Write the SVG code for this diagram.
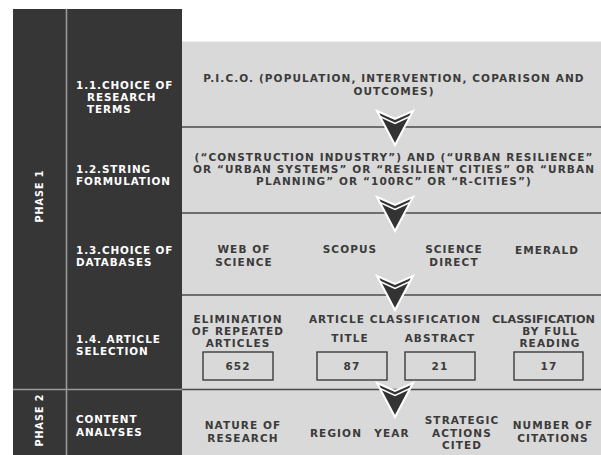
<svg xmlns="http://www.w3.org/2000/svg" width="601" height="455" viewBox="0 0 601 455">
<defs>
<style>
.dk{fill:#363636}
.lt{font-family:"DejaVu Sans",sans-serif;font-weight:bold;font-size:10.4px;fill:#ffffff;letter-spacing:0.9px}
.ph{font-family:"DejaVu Sans",sans-serif;font-weight:bold;font-size:9.6px;fill:#ffffff;letter-spacing:1px;text-anchor:middle}
.tx{font-family:"DejaVu Sans",sans-serif;font-weight:bold;font-size:10.5px;fill:#3b3b3b;letter-spacing:1.1px;text-anchor:middle}
.sep{stroke:#4a4a4a;stroke-width:1.6}
.box{fill:none;stroke:#3b3b3b;stroke-width:1.4}
</style>
<g id="chev">
<polygon points="-18,1 0,9 18,1 0,35" fill="#333" stroke="#fff" stroke-width="2" stroke-linejoin="miter"/>
<polyline points="-15,6.5 0,13.5 15,6.5" fill="none" stroke="#fff" stroke-width="1.5"/>
</g>
</defs>
<rect width="601" height="455" fill="#fff"/>
<g id="background">
<rect x="182" y="41" width="419" height="414" fill="#d9d9d9"/>
<line x1="182" y1="41.5" x2="601" y2="41.5" stroke="#eeeeee" stroke-width="1"/>
<rect x="13" y="9" width="169" height="446" class="dk"/>
<line x1="66.5" y1="9" x2="66.5" y2="455" stroke="#9a9a9a" stroke-width="1.6"/>
<line x1="13" y1="389.5" x2="182" y2="389.5" stroke="#9a9a9a" stroke-width="1.6"/>
</g>
<g id="connectors">
<line class="sep" x1="182" y1="127" x2="601" y2="127"/>
<line class="sep" x1="182" y1="213" x2="601" y2="213"/>
<line class="sep" x1="182" y1="295" x2="601" y2="295"/>
<line class="sep" x1="182" y1="389.5" x2="601" y2="389.5"/>
<use href="#chev" x="395" y="110"/>
<use href="#chev" x="395" y="196"/>
<use href="#chev" x="395" y="275"/>
<use href="#chev" x="395" y="382"/>
</g>
<g id="phase1">
<text class="ph" transform="translate(43,196) rotate(-90)">PHASE 1</text>
</g>
<g id="phase2">
<text class="ph" transform="translate(43,420) rotate(-90)">PHASE 2</text>
</g>
<g id="step11">
<text class="lt" x="76" y="89">1.1.CHOICE OF</text>
<text class="lt" x="87" y="101">RESEARCH</text>
<text class="lt" x="87" y="113">TERMS</text>
</g>
<g id="step12">
<text class="lt" x="76" y="173">1.2.STRING</text>
<text class="lt" x="76" y="185">FORMULATION</text>
</g>
<g id="step13">
<text class="lt" x="76" y="254">1.3.CHOICE OF</text>
<text class="lt" x="76" y="266">DATABASES</text>
</g>
<g id="step14">
<text class="lt" x="76" y="343">1.4. ARTICLE</text>
<text class="lt" x="76" y="355">SELECTION</text>
</g>
<g id="step2">
<text class="lt" x="76" y="423">CONTENT</text>
<text class="lt" x="76" y="436">ANALYSES</text>
</g>
<g id="pico">
<text class="tx" x="394" y="82">P.I.C.O. (POPULATION, INTERVENTION, COPARISON AND</text>
<text class="tx" x="394" y="95">OUTCOMES)</text>
</g>
<g id="string">
<text class="tx" x="394" y="161">(“CONSTRUCTION INDUSTRY”) AND (“URBAN RESILIENCE”</text>
<text class="tx" x="394" y="173">OR “URBAN SYSTEMS” OR “RESILIENT CITIES” OR “URBAN</text>
<text class="tx" x="394" y="185">PLANNING” OR “100RC” OR “R-CITIES”)</text>
</g>
<g id="databases">
<text class="tx" x="244" y="253">WEB OF</text>
<text class="tx" x="244" y="266">SCIENCE</text>
<text class="tx" x="350" y="253">SCOPUS</text>
<text class="tx" x="454" y="253">SCIENCE</text>
<text class="tx" x="454" y="266">DIRECT</text>
<text class="tx" x="547" y="254">EMERALD</text>
</g>
<g id="elimination">
<text class="tx" x="238" y="323">ELIMINATION</text>
<text class="tx" x="238" y="335">OF REPEATED</text>
<text class="tx" x="238" y="347">ARTICLES</text>
<rect class="box" x="203" y="352" width="70" height="28"/>
<text class="tx" x="238" y="370">652</text>
</g>
<g id="classification">
<text class="tx" x="395" y="323">ARTICLE CLASSIFICATION</text>
<text class="tx" x="350" y="342">TITLE</text>
<text class="tx" x="440" y="342">ABSTRACT</text>
<rect class="box" x="317" y="352" width="70" height="28"/>
<text class="tx" x="352" y="370">87</text>
<rect class="box" x="405" y="352" width="70" height="28"/>
<text class="tx" x="440" y="370">21</text>
</g>
<g id="fullreading">
<text class="tx" x="492" y="323" style="text-anchor:start;letter-spacing:0" textLength="103" lengthAdjust="spacingAndGlyphs">CLASSIFICATION</text>
<text class="tx" x="550" y="335">BY FULL</text>
<text class="tx" x="550" y="347">READING</text>
<rect class="box" x="514" y="352" width="69" height="28"/>
<text class="tx" x="549" y="370">17</text>
</g>
<g id="content">
<text class="tx" x="243" y="429">NATURE OF</text>
<text class="tx" x="243" y="442">RESEARCH</text>
<text class="tx" x="336" y="437">REGION</text>
<text class="tx" x="392" y="437">YEAR</text>
<text class="tx" x="462" y="424">STRATEGIC</text>
<text class="tx" x="462" y="437">ACTIONS</text>
<text class="tx" x="462" y="449">CITED</text>
<text class="tx" x="553" y="429">NUMBER OF</text>
<text class="tx" x="553" y="442">CITATIONS</text>
</g>
</svg>
